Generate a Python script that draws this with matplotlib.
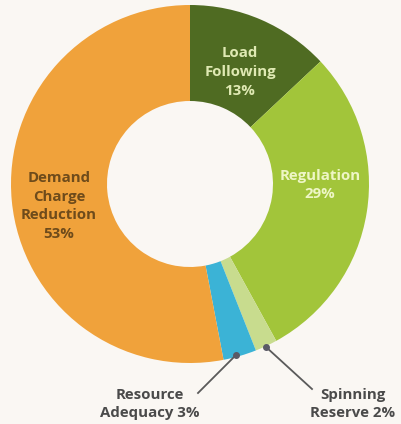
import matplotlib.pyplot as plt

# share of revenue by service
services = ['Load\nFollowing', 'Regulation', 'Spinning\nReserve', 'Resource\nAdequacy', 'Demand\nCharge\nReduction']
shares = [13, 29, 2, 3, 53]
colors = ['#4f6b22', '#a2c53a', '#c8dc8e', '#3bb3d6', '#f0a23b']

plt.rcParams['font.family'] = ['Open Sans', 'DejaVu Sans']

H = 424
fig = plt.figure(figsize=(4.01, 4.24), dpi=100, facecolor='#faf7f3')
ax = fig.add_axes([0, 0, 1, 1])
ax.set_facecolor('#faf7f3')

cx, cy, r = 190, H - 184, 179
wedges, _ = ax.pie(shares, colors=colors, startangle=90, counterclock=False,
                   center=(cx, cy), radius=r, frame=True,
                   wedgeprops=dict(width=r - 83, linewidth=0))

ax.set_xlim(0, 401)
ax.set_ylim(0, H)
ax.set_aspect('equal')
ax.axis('off')

bold = dict(fontsize=10.8, fontweight='bold', ha='center', va='center', linespacing=1.42)
ax.text(240, H - 72, '%s\n%d%%' % (services[0], shares[0]), color='#dfe9b3', **bold)
ax.text(320, H - 185, '%s\n%d%%' % (services[1], shares[1]), color='#eef6c6', **bold)
ax.text(59, H - 206, '%s\n%d%%' % (services[4], shares[4]), color='#6e4b1b', **bold)

# callouts for the two thin slices
ax.text(150, H - 404, 'Resource\nAdequacy %d%%' % shares[3], color='#4a4a4a', **bold)
ax.text(353, H - 404, 'Spinning\nReserve %d%%' % shares[2], color='#4a4a4a', **bold)
ax.plot([236, 198], [H - 355, H - 393], color='#5a5a5a', lw=1.3)
ax.plot([266, 312], [H - 347, H - 389], color='#5a5a5a', lw=1.3)
ax.plot([236, 266], [H - 355, H - 347], 'o', color='#5a5a66', ms=4)

fig.savefig('out.png', dpi=100, facecolor=fig.get_facecolor())
